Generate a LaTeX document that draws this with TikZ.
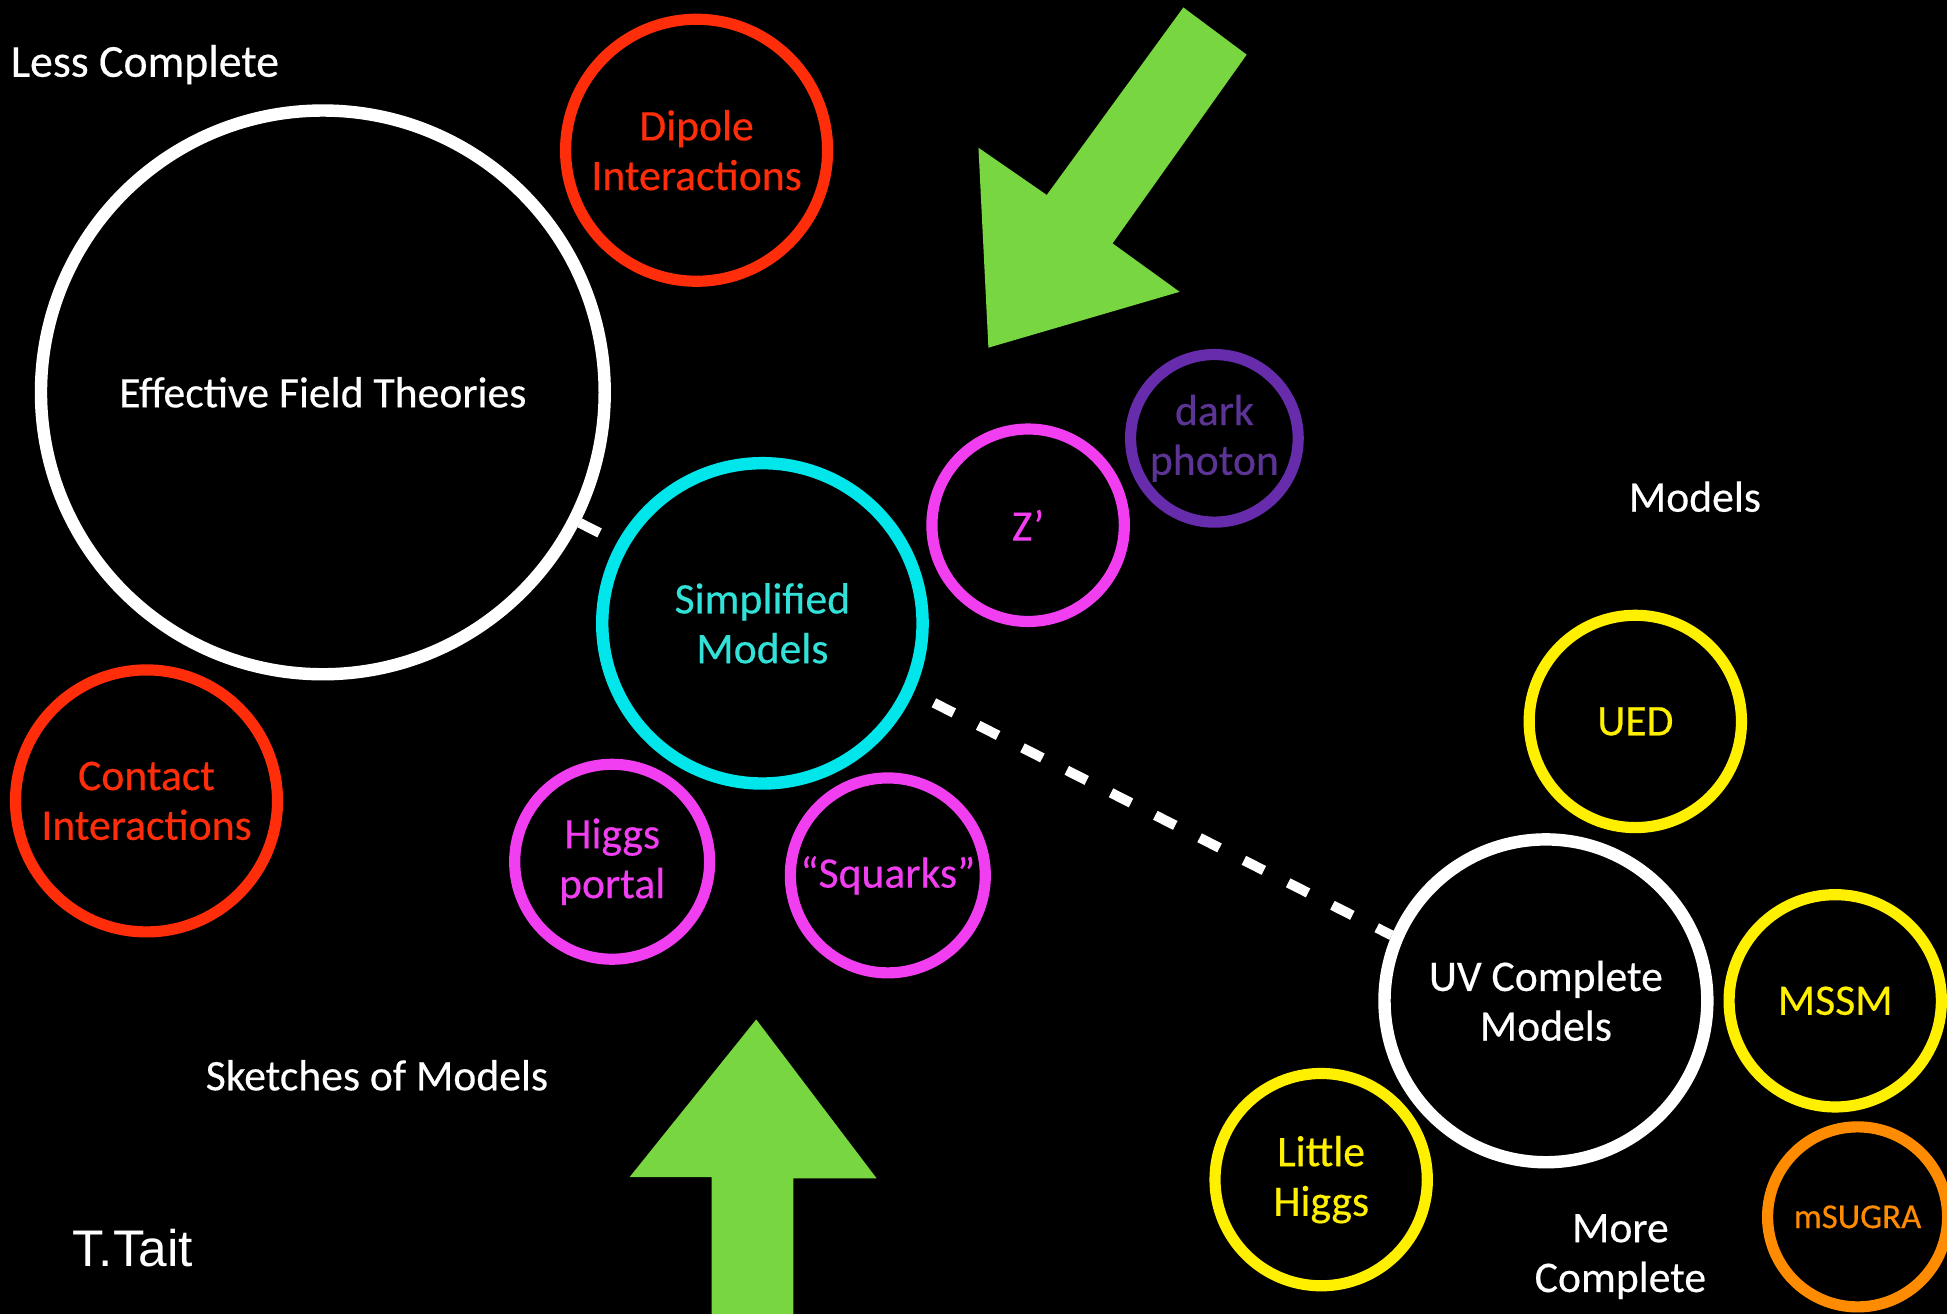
\documentclass[tikz,border=0pt]{standalone}
\usepackage{fontspec}
\setmainfont{Carlito}[FakeBold=0.4]
\newfontfamily\arialfont{Liberation Sans}
\usepackage{xcolor}
\usepackage{tikz}
\usetikzlibrary{positioning, calc}
\pgfdeclarelayer{bg}
\pgfsetlayers{bg,main}
\definecolor{ringred}{RGB}{255,45,10}
\definecolor{ringmag}{RGB}{240,62,240}
\definecolor{ringcyan}{RGB}{0,230,235}
\definecolor{textcyan}{RGB}{50,225,215}
\definecolor{ringpurple}{RGB}{102,44,172}
\definecolor{textpurple}{RGB}{92,52,150}
\definecolor{ringyellow}{RGB}{255,240,0}
\definecolor{ringorange}{RGB}{255,140,0}
\definecolor{arrowgreen}{RGB}{120,214,64}
\tikzstyle{ring} = [circle, draw, line width=0.9mm, fill=black, inner sep=0pt, align=center, font=\fontsize{10}{11.4}\selectfont]
\tikzstyle{whitering} = [ring, draw=white, text=white, line width=1mm]
\tikzstyle{redring} = [ring, draw=ringred, text=ringred]
\tikzstyle{magring} = [ring, draw=ringmag, text=ringmag]
\tikzstyle{cyanring} = [ring, draw=ringcyan, text=textcyan, line width=1mm]
\tikzstyle{purplering} = [ring, draw=ringpurple, text=textpurple]
\tikzstyle{yellowring} = [ring, draw=ringyellow, text=ringyellow]
\tikzstyle{orangering} = [ring, draw=ringorange, text=ringorange, font=\fontsize{8}{9.6}\selectfont]
\tikzstyle{plaintext} = [text=white, inner sep=0pt, align=center, font=\fontsize{10}{11.4}\selectfont]
\tikzstyle{dashlink} = [white, line width=0.8mm, dash pattern=on 1.8mm off 2.2mm]
\tikzstyle{bigarrow} = [fill=arrowgreen]

\begin{document}
\begin{tikzpicture}[x=0.1mm, y=-0.1mm]
\useasboundingbox (0,0) rectangle (1568,1058);
\begin{pgfonlayer}{bg}
\fill[black] (0,0) rectangle (1568,1058);
\end{pgfonlayer}

% less complete side
\node (eft) [whitering, minimum size=45.4mm] at (260,316) {Effective Field Theories};
\node (dipole) [redring, minimum size=21.1mm] at (561,121) {Dipole\\Interactions};
\node (contact) [redring, minimum size=21.1mm] at (118,645) {Contact\\Interactions};

% simplified models and friends
\node (simp) [cyanring, minimum size=25.8mm] at (614,502) {Simplified\\Models};
\node (zprime) [magring, minimum size=15.5mm] at (828,423) {Z’};
\node (dark) [purplering, minimum size=13.5mm] at (978,353) {dark\\photon};
\node (higgs) [magring, minimum size=15.7mm] at (493,694) {Higgs\\portal};
\node (squarks) [magring, minimum size=15.7mm] at (715,705) {“Squarks”};

% more complete side
\node (uv) [whitering, minimum size=26mm] at (1245,806) {UV Complete\\Models};
\node (ued) [yellowring, minimum size=17.1mm] at (1317,581) {UED};
\node (mssm) [yellowring, minimum size=17.1mm] at (1478,806) {MSSM};
\node (msugra) [orangering, minimum size=14.5mm] at (1496,980) {mSUGRA};
\node (little) [yellowring, minimum size=17.1mm] at (1064,950) {Little\\Higgs};

% labels
\node (less) [plaintext, anchor=west, font=\fontsize{10.5}{12}\selectfont] at (8,52) {Less Complete};
\node (sketch) [plaintext, anchor=west] at (165,866) {Sketches of Models};
\node (models) [plaintext] at (1365,400) {Models};
\node (more) [plaintext] at (1305,1012) {More\\Complete};
\node (tait) [plaintext, anchor=west, font=\arialfont\fontsize{11.8}{13}\selectfont] at (58,1005) {T.Tait};

% green arrows
\fill[bigarrow] (953,6) -- (1004,44) -- (896,196) -- (950,235) -- (796,280) -- (788,119) -- (843,157) -- cycle;
\fill[bigarrow] (609,821) -- (706,949) -- (639,949) -- (639,1070) -- (573,1070) -- (573,948) -- (507,948) -- cycle;

\begin{pgfonlayer}{bg}
\draw [dashlink] (eft) -- (uv.157);
\end{pgfonlayer}
\end{tikzpicture}
\end{document}
